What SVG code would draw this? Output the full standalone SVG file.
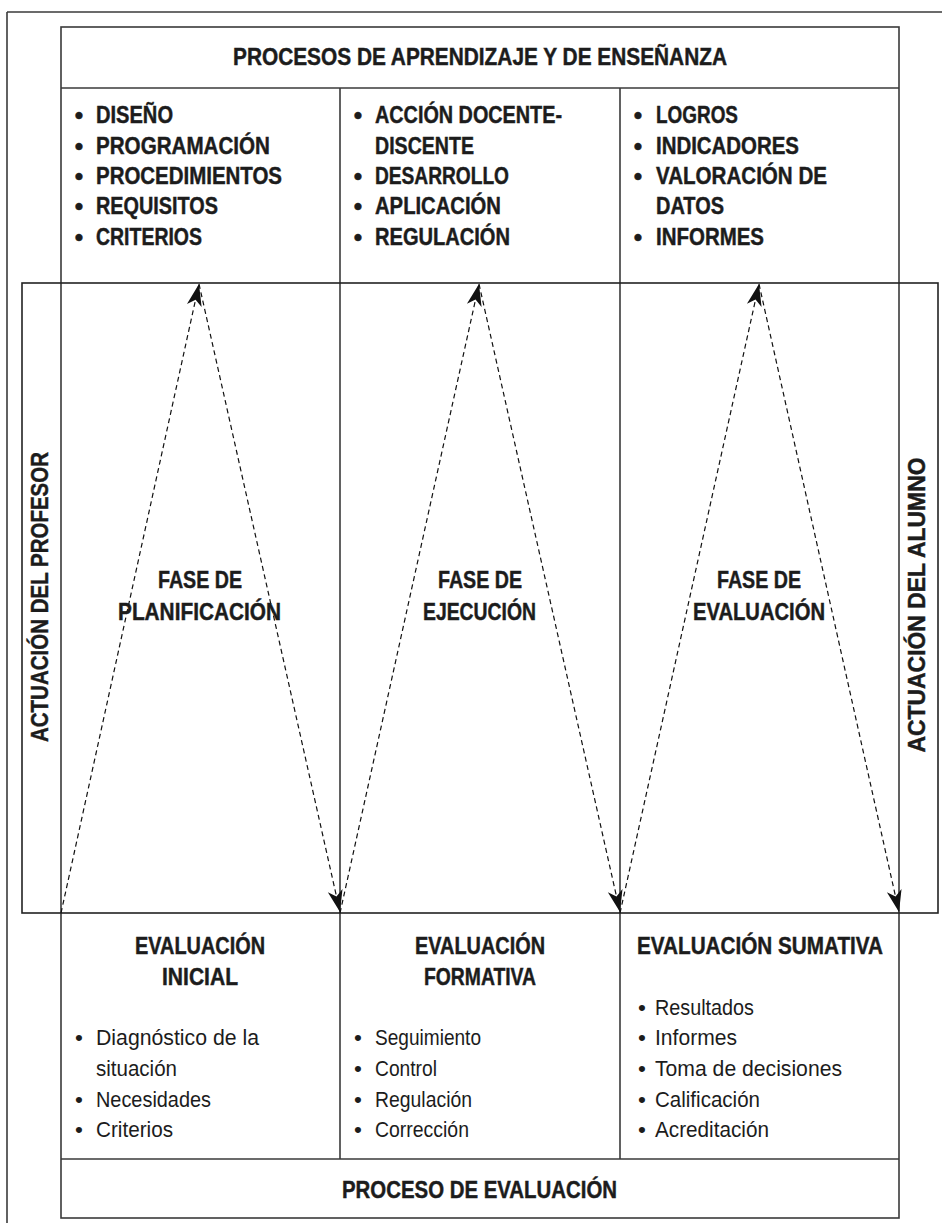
<svg xmlns="http://www.w3.org/2000/svg" width="942" height="1227" viewBox="0 0 942 1227">
<defs>
<style>
.ln{stroke:#3a3a3a;stroke-width:1.6;fill:none}
.bd{stroke:#222;stroke-width:1.6;fill:none}
.b{font-family:"Liberation Sans",Arial,sans-serif;font-weight:bold;font-size:24px;fill:#1c1c1c;stroke:#1c1c1c;stroke-width:0.45}
.r{font-family:"Liberation Sans",Arial,sans-serif;font-size:22.5px;fill:#1c1c1c}
.c{text-anchor:middle}
.dash{stroke:#111;stroke-width:1.2;stroke-dasharray:5 3.5;fill:none}
</style>
<marker id="ah" markerUnits="userSpaceOnUse" markerWidth="26" markerHeight="18" viewBox="-24 -9 26 18" refX="0" refY="0" orient="auto">
<path d="M0,0 L-22,-7.5 L-16,0 L-22,7.5 Z" fill="#111"/>
</marker>
</defs>
<rect width="942" height="1227" fill="#fff"/>
<g id="page-frame">
<line class="ln" x1="7" y1="12" x2="942" y2="12"/>
<line class="ln" x1="7" y1="12" x2="7" y2="1223"/>
</g>
<g id="main-frame">
<rect class="ln" x="61" y="27" width="838" height="1191"/>
<line class="ln" x1="61" y1="88" x2="899" y2="88"/>
<line class="ln" x1="340" y1="88" x2="340" y2="1159"/>
<line class="ln" x1="620" y1="88" x2="620" y2="1159"/>
<line class="ln" x1="61" y1="1159" x2="899" y2="1159"/>
<rect class="bd" x="22" y="283" width="916" height="630"/>
</g>
<g id="header">
<text class="b" x="233" y="65" textLength="494" lengthAdjust="spacingAndGlyphs">PROCESOS DE APRENDIZAJE Y DE ENSEÑANZA</text>
</g>
<g id="top-col1">
<text class="b c" x="79" y="123">•</text><text class="b" x="96" y="123" textLength="77" lengthAdjust="spacingAndGlyphs">DISEÑO</text>
<text class="b c" x="79" y="154">•</text><text class="b" x="96" y="154" textLength="174" lengthAdjust="spacingAndGlyphs">PROGRAMACIÓN</text>
<text class="b c" x="79" y="184">•</text><text class="b" x="96" y="184" textLength="186" lengthAdjust="spacingAndGlyphs">PROCEDIMIENTOS</text>
<text class="b c" x="79" y="214">•</text><text class="b" x="96" y="214" textLength="122" lengthAdjust="spacingAndGlyphs">REQUISITOS</text>
<text class="b c" x="79" y="245">•</text><text class="b" x="96" y="245" textLength="106" lengthAdjust="spacingAndGlyphs">CRITERIOS</text>
</g>
<g id="top-col2">
<text class="b c" x="358" y="123">•</text><text class="b" x="375" y="123" textLength="187" lengthAdjust="spacingAndGlyphs">ACCIÓN DOCENTE-</text>
<text class="b" x="375" y="154" textLength="99" lengthAdjust="spacingAndGlyphs">DISCENTE</text>
<text class="b c" x="358" y="184">•</text><text class="b" x="375" y="184" textLength="134" lengthAdjust="spacingAndGlyphs">DESARROLLO</text>
<text class="b c" x="358" y="214">•</text><text class="b" x="375" y="214" textLength="126" lengthAdjust="spacingAndGlyphs">APLICACIÓN</text>
<text class="b c" x="358" y="245">•</text><text class="b" x="375" y="245" textLength="135" lengthAdjust="spacingAndGlyphs">REGULACIÓN</text>
</g>
<g id="top-col3">
<text class="b c" x="638" y="123">•</text><text class="b" x="656" y="123" textLength="82" lengthAdjust="spacingAndGlyphs">LOGROS</text>
<text class="b c" x="638" y="154">•</text><text class="b" x="656" y="154" textLength="143" lengthAdjust="spacingAndGlyphs">INDICADORES</text>
<text class="b c" x="638" y="184">•</text><text class="b" x="656" y="184" textLength="171" lengthAdjust="spacingAndGlyphs">VALORACIÓN DE</text>
<text class="b" x="656" y="214" textLength="68" lengthAdjust="spacingAndGlyphs">DATOS</text>
<text class="b c" x="638" y="245">•</text><text class="b" x="656" y="245" textLength="108" lengthAdjust="spacingAndGlyphs">INFORMES</text>
</g>
<g id="label-profesor">
<text class="b c" transform="translate(48,597) rotate(-90)" x="0" y="0" textLength="290" lengthAdjust="spacingAndGlyphs">ACTUACIÓN DEL PROFESOR</text>
</g>
<g id="label-alumno">
<text class="b c" transform="translate(925,605) rotate(-90)" x="0" y="0" textLength="295" lengthAdjust="spacingAndGlyphs">ACTUACIÓN DEL ALUMNO</text>
</g>
<g id="connectors">
<line class="dash" x1="61" y1="913" x2="199" y2="284" marker-end="url(#ah)"/>
<line class="dash" x1="199" y1="284" x2="340" y2="912" marker-end="url(#ah)"/>
<line class="dash" x1="340" y1="913" x2="479" y2="284" marker-end="url(#ah)"/>
<line class="dash" x1="479" y1="284" x2="620" y2="912" marker-end="url(#ah)"/>
<line class="dash" x1="620" y1="913" x2="759" y2="284" marker-end="url(#ah)"/>
<line class="dash" x1="759" y1="284" x2="899" y2="912" marker-end="url(#ah)"/>
</g>
<g id="fase-planificacion">
<text class="b c" x="200" y="588" textLength="84" lengthAdjust="spacingAndGlyphs">FASE DE</text>
<text class="b c" x="199.5" y="620" textLength="163" lengthAdjust="spacingAndGlyphs">PLANIFICACIÓN</text>
</g>
<g id="fase-ejecucion">
<text class="b c" x="480" y="588" textLength="84" lengthAdjust="spacingAndGlyphs">FASE DE</text>
<text class="b c" x="479.5" y="620" textLength="113" lengthAdjust="spacingAndGlyphs">EJECUCIÓN</text>
</g>
<g id="fase-evaluacion">
<text class="b c" x="759" y="588" textLength="84" lengthAdjust="spacingAndGlyphs">FASE DE</text>
<text class="b c" x="759" y="620" textLength="132" lengthAdjust="spacingAndGlyphs">EVALUACIÓN</text>
</g>
<g id="eval-inicial">
<text class="b c" x="200" y="954" textLength="130" lengthAdjust="spacingAndGlyphs">EVALUACIÓN</text>
<text class="b c" x="200" y="985" textLength="76" lengthAdjust="spacingAndGlyphs">INICIAL</text>
<text class="r c" x="79" y="1045">•</text><text class="r" x="96" y="1045" textLength="163" lengthAdjust="spacingAndGlyphs">Diagnóstico de la</text>
<text class="r" x="96" y="1076" textLength="81" lengthAdjust="spacingAndGlyphs">situación</text>
<text class="r c" x="79" y="1107">•</text><text class="r" x="96" y="1107" textLength="115" lengthAdjust="spacingAndGlyphs">Necesidades</text>
<text class="r c" x="79" y="1137">•</text><text class="r" x="96" y="1137" textLength="77" lengthAdjust="spacingAndGlyphs">Criterios</text>
</g>
<g id="eval-formativa">
<text class="b c" x="480" y="954" textLength="130" lengthAdjust="spacingAndGlyphs">EVALUACIÓN</text>
<text class="b c" x="480" y="985" textLength="112" lengthAdjust="spacingAndGlyphs">FORMATIVA</text>
<text class="r c" x="358" y="1045">•</text><text class="r" x="375" y="1045" textLength="106" lengthAdjust="spacingAndGlyphs">Seguimiento</text>
<text class="r c" x="358" y="1076">•</text><text class="r" x="375" y="1076" textLength="62" lengthAdjust="spacingAndGlyphs">Control</text>
<text class="r c" x="358" y="1107">•</text><text class="r" x="375" y="1107" textLength="97" lengthAdjust="spacingAndGlyphs">Regulación</text>
<text class="r c" x="358" y="1137">•</text><text class="r" x="375" y="1137" textLength="94" lengthAdjust="spacingAndGlyphs">Corrección</text>
</g>
<g id="eval-sumativa">
<text class="b" x="637" y="954" textLength="246" lengthAdjust="spacingAndGlyphs">EVALUACIÓN SUMATIVA</text>
<text class="r c" x="642" y="1015">•</text><text class="r" x="655" y="1015" textLength="99" lengthAdjust="spacingAndGlyphs">Resultados</text>
<text class="r c" x="642" y="1045">•</text><text class="r" x="655" y="1045" textLength="82" lengthAdjust="spacingAndGlyphs">Informes</text>
<text class="r c" x="642" y="1076">•</text><text class="r" x="655" y="1076" textLength="187" lengthAdjust="spacingAndGlyphs">Toma de decisiones</text>
<text class="r c" x="642" y="1107">•</text><text class="r" x="655" y="1107" textLength="105" lengthAdjust="spacingAndGlyphs">Calificación</text>
<text class="r c" x="642" y="1137">•</text><text class="r" x="655" y="1137" textLength="114" lengthAdjust="spacingAndGlyphs">Acreditación</text>
</g>
<g id="footer">
<text class="b c" x="479.5" y="1198" textLength="275" lengthAdjust="spacingAndGlyphs">PROCESO DE EVALUACIÓN</text>
</g>
</svg>
